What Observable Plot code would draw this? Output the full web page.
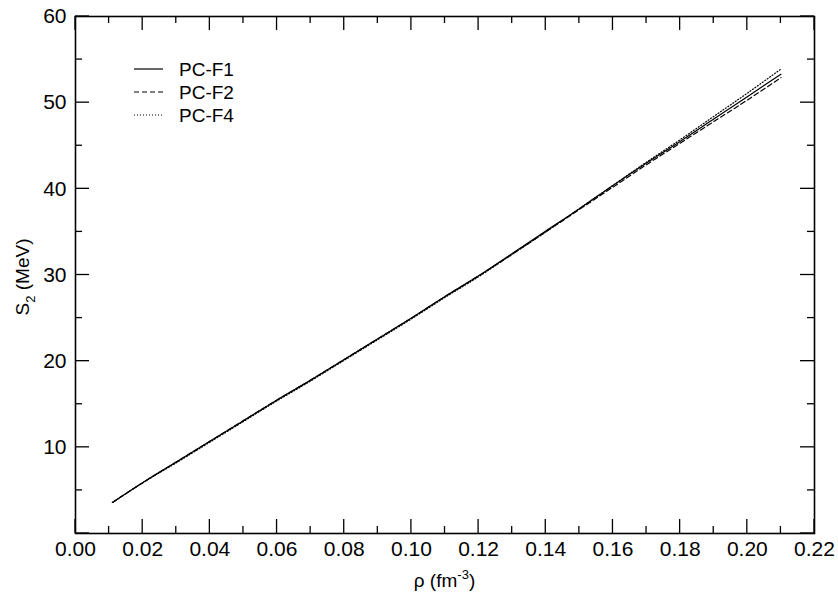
<!DOCTYPE html>
<html>
<head>
<meta charset="utf-8">
<script src="https://cdn.jsdelivr.net/npm/d3@7"></script>
<script src="https://cdn.jsdelivr.net/npm/@observablehq/plot@0.6"></script>
<style>
  html, body { margin: 0; padding: 0; background: #fff; }
  #chart svg { display: block; }
</style>
</head>
<body>
<div id="chart"></div>
<script>
// ---- data ----
const rho = [0.011, 0.02, 0.03, 0.04, 0.05, 0.06, 0.07, 0.08, 0.09, 0.10, 0.11,
             0.12, 0.13, 0.14, 0.15, 0.16, 0.17, 0.18, 0.19, 0.20, 0.21];
const s2PCF1 = [3.6, 5.9, 8.3, 10.7, 13.1, 15.5, 17.8, 20.2, 22.6, 25.0, 27.5,
                29.9, 32.5, 35.1, 37.7, 40.4, 43.0, 45.5, 48.1, 50.7, 53.3];
const s2PCF2 = [3.6, 5.9, 8.3, 10.7, 13.1, 15.5, 17.8, 20.2, 22.6, 25.0, 27.5,
                29.9, 32.4, 35.0, 37.6, 40.2, 42.8, 45.3, 47.8, 50.3, 52.9];
const s2PCF4 = [3.6, 5.9, 8.2, 10.6, 13.0, 15.4, 17.7, 20.1, 22.5, 24.9, 27.4,
                29.8, 32.4, 35.0, 37.7, 40.4, 43.1, 45.7, 48.4, 51.1, 53.9];
const seriesNames = ["PC-F1", "PC-F2", "PC-F4"];
const xMajor = [0, 0.02, 0.04, 0.06, 0.08, 0.10, 0.12, 0.14, 0.16, 0.18, 0.20, 0.22];
const xMinor = [0.01, 0.03, 0.05, 0.07, 0.09, 0.11, 0.13, 0.15, 0.17, 0.19, 0.21];
const yMajor = [0, 10, 20, 30, 40, 50, 60];
const yLabels = [10, 20, 30, 40, 50, 60];
const yMinor = [5, 15, 25, 35, 45, 55];

// ---- layout ----
const W = 838, H = 595;
const mL = 75, mR = 24, mT = 16, mB = 62;
const iW = W - mL - mR, iH = H - mT - mB;
const xDom = [0, 0.22], yDom = [0, 60];
const majorPx = 14, minorPx = 7;
const dashes = [null, "5,3", "1,2"];
const font = "'Liberation Sans', Arial, Helvetica, sans-serif";

const seriesVals = [s2PCF1, s2PCF2, s2PCF4];
const rows = seriesNames.flatMap((name, k) =>
  rho.map((r, i) => ({series: name, rho: r, s2: seriesVals[k][i]})));

const chart = Plot.plot({
  width: W, height: H,
  marginLeft: mL, marginRight: mR, marginTop: mT, marginBottom: mB,
  style: {fontFamily: font, fontSize: "21px", color: "black", background: "white"},
  x: {domain: xDom},
  y: {domain: yDom},
  marks: [
    Plot.axisX({ticks: xMajor, tickFormat: d3.format(".2f"), tickSize: 0, tickPadding: 8, label: null, fontSize: 21}),
    Plot.axisY({ticks: yLabels, tickFormat: d3.format("d"), tickSize: 0, tickPadding: 9, label: null, fontSize: 21}),
    ...seriesNames.map((name, k) =>
      Plot.line(rows.filter(d => d.series === name), {
        x: "rho", y: "s2", stroke: "black", strokeWidth: 1.2,
        strokeDasharray: dashes[k], curve: "catmull-rom"
      })),
    Plot.frame({stroke: "black", strokeWidth: 1.6})
  ]
});

document.getElementById("chart").appendChild(chart);
const svg = d3.select(chart);

// ---- inward ticks on all four sides, placed with Plot's own scales ----
const sx = chart.scale("x"), sy = chart.scale("y");
const X = v => sx.apply(v), Y = v => sy.apply(v);
const x0 = X(xDom[0]), x1 = X(xDom[1]), y0 = Y(yDom[0]), y1 = Y(yDom[1]);
const tg = svg.append("g").attr("stroke", "black").attr("stroke-width", 1.3);
function xTicks(vals, len) {
  vals.forEach(v => {
    const px = X(v);
    tg.append("line").attr("x1", px).attr("x2", px).attr("y1", y0).attr("y2", y0 - len);
    tg.append("line").attr("x1", px).attr("x2", px).attr("y1", y1).attr("y2", y1 + len);
  });
}
function yTicks(vals, len) {
  vals.forEach(v => {
    const py = Y(v);
    tg.append("line").attr("y1", py).attr("y2", py).attr("x1", x0).attr("x2", x0 + len);
    tg.append("line").attr("y1", py).attr("y2", py).attr("x1", x1).attr("x2", x1 - len);
  });
}
xTicks(xMajor, majorPx); xTicks(xMinor, minorPx);
yTicks(yMajor, majorPx); yTicks(yMinor, minorPx);

// ---- axis titles and legend (real text) ----
const xt = svg.append("text")
  .attr("x", 0).attr("y", 587)
  .attr("text-anchor", "start")
  .style("font-family", font).style("font-size", "19px").attr("fill", "black");
xt.append("tspan").text("ρ (fm");
xt.append("tspan").attr("dy", -8).style("font-size", "13px").text("-3");
xt.append("tspan").attr("dy", 8).text(")");
{
  const bb = xt.node().getBBox();
  xt.attr("x", mL + iW / 2 - bb.width / 2);
}

const yt = svg.append("text")
  .attr("text-anchor", "start")
  .style("font-family", font).style("font-size", "19px").attr("fill", "black");
yt.append("tspan").text("S");
yt.append("tspan").attr("dy", 6).style("font-size", "13px").text("2");
yt.append("tspan").attr("dy", -6).text(" (MeV)");
{
  const bb = yt.node().getBBox();
  yt.attr("transform", `translate(29, ${277 + bb.width / 2}) rotate(-90)`);
}

const lg = svg.append("g");
seriesNames.forEach((name, k) => {
  const y = 69 + k * 23;
  lg.append("line").attr("x1", 134).attr("x2", 163).attr("y1", y).attr("y2", y)
    .attr("stroke", "black").attr("stroke-width", 1.2)
    .attr("stroke-dasharray", dashes[k]);
  lg.append("text").attr("x", 179).attr("y", y).attr("dy", "0.36em")
    .attr("text-anchor", "start")
    .style("font-family", font).style("font-size", "19px").attr("fill", "black")
    .text(name);
});
</script>
</body>
</html>
